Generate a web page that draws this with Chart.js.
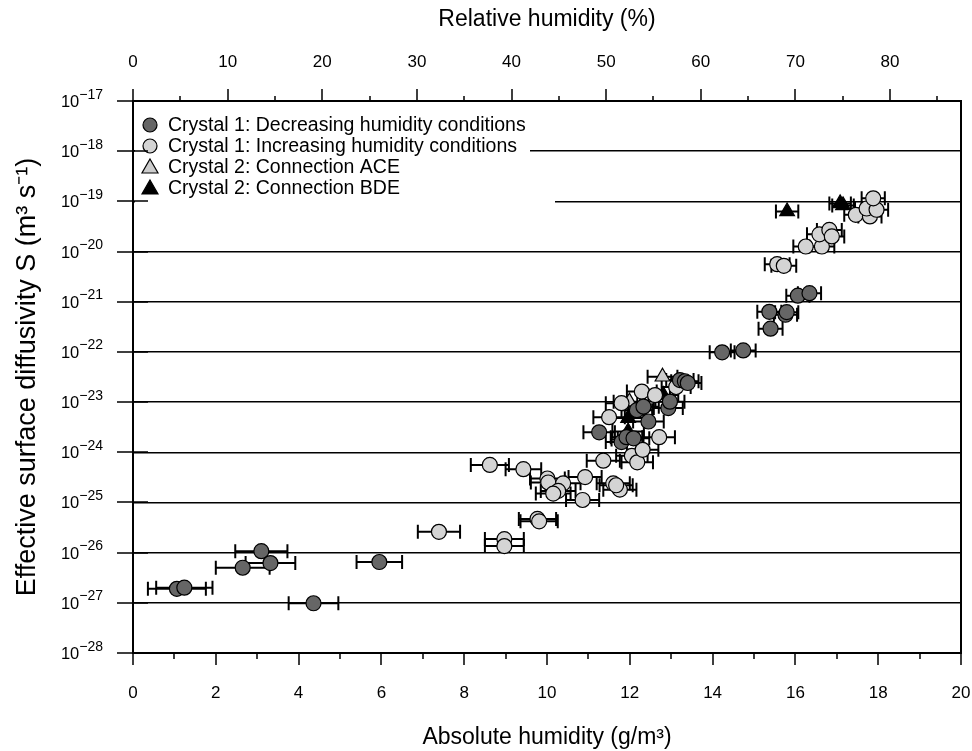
<!DOCTYPE html>
<html>
<head>
<meta charset="utf-8">
<script src="https://cdn.jsdelivr.net/npm/chart.js@4.4.1/dist/chart.umd.min.js"></script>
<style>
  html, body { margin: 0; padding: 0; background: #fff; }
  #wrap { width: 972px; height: 751px; position: relative; }
</style>
</head>
<body>
<div id="wrap"><canvas id="c"></canvas></div>
<script>
// ---------- data ----------
// Crystal 1: decreasing humidity conditions
const decX   = [1.06, 1.24, 2.65, 3.10, 3.32, 4.36, 5.95, 11.26, 11.80, 11.92, 12.09, 12.17, 12.33, 12.45, 12.93, 12.97, 13.21, 13.33, 13.40, 14.23, 14.74, 15.37, 15.40, 15.76, 15.79, 16.06, 16.34];
const decS   = [1.9e-27, 2.0e-27, 5.0e-27, 1.07e-26, 6.2e-27, 9.8e-28, 6.5e-27, 2.5e-24, 1.6e-24, 2.0e-24, 1.9e-24, 6.9e-24, 8.1e-24, 4.1e-24, 7.6e-24, 1.02e-23, 2.75e-23, 2.6e-23, 2.4e-23, 9.8e-23, 1.07e-22, 6.3e-22, 2.9e-22, 5.5e-22, 6.2e-22, 1.32e-21, 1.48e-21];
const decErr = [0.70, 0.68, 0.65, 0.63, 0.60, 0.60, 0.55, 0.38, 0.38, 0.38, 0.38, 0.37, 0.37, 0.37, 0.35, 0.35, 0.33, 0.33, 0.33, 0.30, 0.30, 0.29, 0.29, 0.28, 0.28, 0.28, 0.28];

// Crystal 1: increasing humidity conditions
const incX   = [7.39, 8.62, 9.43, 9.77, 9.81, 8.97, 8.97, 10.01, 10.03, 10.39, 10.27, 10.15, 10.92, 10.86, 11.36, 11.60, 11.76, 11.67, 12.05, 12.18, 12.31, 12.71, 11.50, 11.80, 12.29, 12.61, 13.12, 15.56, 15.72, 16.25, 16.64, 16.58, 16.82, 16.88, 17.46, 17.80, 17.72, 17.96, 17.88];
const incS   = [2.6e-26, 5.6e-25, 4.6e-25, 4.7e-26, 4.2e-26, 1.86e-26, 1.35e-26, 3.0e-25, 2.5e-25, 2.4e-25, 1.7e-25, 1.5e-25, 3.2e-25, 1.12e-25, 6.8e-25, 2.4e-25, 1.8e-25, 2.2e-25, 8.5e-25, 6.3e-25, 1.12e-24, 2.0e-24, 5.0e-24, 9.5e-24, 1.62e-23, 1.38e-23, 2.0e-23, 5.6e-21, 5.2e-21, 1.26e-20, 1.26e-20, 2.2e-20, 2.7e-20, 2.0e-20, 5.4e-20, 5.0e-20, 7.2e-20, 6.8e-20, 1.15e-19];
const incErr = [0.51, 0.46, 0.43, 0.45, 0.45, 0.47, 0.47, 0.42, 0.42, 0.42, 0.42, 0.42, 0.40, 0.40, 0.40, 0.40, 0.40, 0.40, 0.38, 0.38, 0.38, 0.38, 0.38, 0.38, 0.36, 0.36, 0.35, 0.30, 0.30, 0.30, 0.30, 0.30, 0.30, 0.30, 0.28, 0.28, 0.28, 0.28, 0.28];

// Crystal 2: connection ACE
const aceX   = [12.79, 11.99];
const aceS   = [3.2e-23, 1.02e-23];
const aceErr = [0.36, 0.38];

// Crystal 2: connection BDE
const bdeX   = [11.96, 11.96, 11.94, 12.81, 15.80, 17.08, 17.15];
const bdeS   = [4.8e-24, 2.6e-24, 1.8e-24, 1.38e-23, 6.3e-20, 9.1e-20, 8.3e-20];
const bdeErr = [0.38, 0.38, 0.38, 0.36, 0.27, 0.26, 0.26];

// axis ticks
const absTicks      = [0, 2, 4, 6, 8, 10, 12, 14, 16, 18, 20];
const absMinorTicks = [1, 3, 5, 7, 9, 11, 13, 15, 17, 19];
const relTicks      = [0, 10, 20, 30, 40, 50, 60, 70, 80];
const relMinorTicks = [5, 15, 25, 35, 45, 55, 65, 75, 85];
const sTickExps     = [-28, -27, -26, -25, -24, -23, -22, -21, -20, -19, -18, -17];
const relMax = 87.5; // relative humidity at 20 g/m3 on the top axis

const seriesNames = [
  'Crystal 1: Decreasing humidity conditions',
  'Crystal 1: Increasing humidity conditions',
  'Crystal 2: Connection ACE',
  'Crystal 2: Connection BDE'
];

// ---------- helpers ----------
const FONT = '"Liberation Sans", Arial, Helvetica, sans-serif';
const SUP = {'0':'⁰','1':'¹','2':'²','3':'³','4':'⁴','5':'⁵','6':'⁶','7':'⁷','8':'⁸','9':'⁹','-':'⁻'};
const sup = s => String(s).split('').map(ch => SUP[ch] || ch).join('');
const pts = (xs, ys) => xs.map((x, i) => ({x: x, y: ys[i]}));

function mkSet(label, xs, ys, errs, style, fill, radius) {
  return {
    label: label,
    data: pts(xs, ys),
    xErr: errs,
    pointStyle: style,
    pointRadius: radius,
    pointHoverRadius: radius,
    pointBackgroundColor: fill,
    pointBorderColor: '#000',
    pointBorderWidth: 1.2,
    showLine: false
  };
}

const datasets = [
  mkSet(seriesNames[0], decX, decS, decErr, 'circle', '#666666', 7.5),
  mkSet(seriesNames[1], incX, incS, incErr, 'circle', '#d4d4d4', 7.5),
  mkSet(seriesNames[2], aceX, aceS, aceErr, 'triangle', '#cccccc', 8.5),
  mkSet(seriesNames[3], bdeX, bdeS, bdeErr, 'triangle', '#000000', 8.5)
];

// horizontal error bars, drawn behind the markers
const errorBars = {
  id: 'errorBars',
  beforeDatasetsDraw(chart) {
    const ctx = chart.ctx, xs = chart.scales.x, ys = chart.scales.y, ca = chart.chartArea;
    ctx.save();
    ctx.beginPath(); ctx.rect(ca.left, ca.top, ca.right - ca.left, ca.bottom - ca.top); ctx.clip();
    ctx.strokeStyle = '#000'; ctx.lineWidth = 2;
    chart.data.datasets.forEach(ds => {
      ds.data.forEach((p, i) => {
        const e = ds.xErr[i];
        const x0 = xs.getPixelForValue(p.x - e), x1 = xs.getPixelForValue(p.x + e);
        const y = ys.getPixelForValue(p.y);
        ctx.beginPath();
        ctx.moveTo(x0, y); ctx.lineTo(x1, y);
        ctx.moveTo(x0, y - 7); ctx.lineTo(x0, y + 7);
        ctx.moveTo(x1, y - 7); ctx.lineTo(x1, y + 7);
        ctx.stroke();
      });
    });
    ctx.restore();
  }
};

// frame, tick marks and the 10^n labels of the log axis
const frameTicks = {
  id: 'frameTicks',
  afterDraw(chart) {
    const ctx = chart.ctx, ca = chart.chartArea;
    const xs = chart.scales.x, x2 = chart.scales.x2, ys = chart.scales.y;
    ctx.save();
    ctx.strokeStyle = '#000';
    ctx.lineWidth = 2;
    ctx.strokeRect(ca.left, ca.top, ca.right - ca.left, ca.bottom - ca.top);
    ctx.lineWidth = 1.5;
    ctx.beginPath();
    absTicks.forEach(v => { const px = Math.round(xs.getPixelForValue(v)); ctx.moveTo(px, ca.bottom); ctx.lineTo(px, ca.bottom + 12); });
    absMinorTicks.forEach(v => { const px = Math.round(xs.getPixelForValue(v)); ctx.moveTo(px, ca.bottom); ctx.lineTo(px, ca.bottom + 6); });
    relTicks.forEach(v => { const px = Math.round(x2.getPixelForValue(v)); ctx.moveTo(px, ca.top); ctx.lineTo(px, ca.top - 12); });
    relMinorTicks.forEach(v => { if (v <= relMax) { const px = Math.round(x2.getPixelForValue(v)); ctx.moveTo(px, ca.top); ctx.lineTo(px, ca.top - 5); } });
    sTickExps.forEach(e => { const py = Math.round(ys.getPixelForValue(Number('1e' + e))); ctx.moveTo(ca.left - 16, py); ctx.lineTo(ca.left + 15, py); });
    ctx.stroke();
    // y tick labels: "10" with a raised exponent
    ctx.fillStyle = '#000';
    ctx.textBaseline = 'alphabetic';
    ctx.textAlign = 'left';
    sTickExps.forEach(e => {
      const py = ys.getPixelForValue(Number('1e' + e));
      const expTxt = '\u2212' + String(-e);
      ctx.font = '14px ' + FONT;
      const ew = ctx.measureText(expTxt).width;
      ctx.font = '16.5px ' + FONT;
      const bw = ctx.measureText('10').width;
      const xr = ca.left - 30;
      ctx.fillText('10', xr - ew - bw, py + 6);
      ctx.font = '14px ' + FONT;
      ctx.fillText(expTxt, xr - ew, py - 2.5);
    });
    ctx.restore();
  }
};

// legend inside the plot, on a white background
const insideLegend = {
  id: 'insideLegend',
  afterDatasetsDraw(chart) {
    const ctx = chart.ctx, ca = chart.chartArea;
    ctx.save();
    ctx.fillStyle = '#fff';
    ctx.fillRect(ca.left + 2, ca.top + 3, 395, 74);
    ctx.fillRect(ca.left + 2, ca.top + 76, 420, 26);
    const mx = ca.left + 17, tx = ca.left + 35;
    ctx.font = '19.5px ' + FONT;
    ctx.textBaseline = 'middle';
    ctx.textAlign = 'left';
    chart.data.datasets.forEach((ds, i) => {
      const y = ca.top + 24 + i * 21;
      ctx.fillStyle = ds.pointBackgroundColor;
      ctx.strokeStyle = '#000';
      ctx.lineWidth = 1.2;
      ctx.beginPath();
      if (ds.pointStyle === 'circle') {
        ctx.arc(mx, y, 7, 0, Math.PI * 2);
      } else {
        ctx.moveTo(mx, y - 8); ctx.lineTo(mx + 8, y + 6); ctx.lineTo(mx - 8, y + 6); ctx.closePath();
      }
      ctx.fill(); ctx.stroke();
      ctx.fillStyle = '#000';
      ctx.fillText(ds.label, tx, y + 1);
    });
    ctx.restore();
  }
};

const noPad = s => { s.paddingLeft = 0; s.paddingRight = 0; s.paddingTop = 0; s.paddingBottom = 0; };

new Chart(document.getElementById('c'), {
  type: 'scatter',
  data: { datasets: datasets },
  plugins: [errorBars, insideLegend, frameTicks],
  options: {
    responsive: true,
    maintainAspectRatio: false,
    animation: false,
    events: [],
    layout: { padding: { left: 0, right: 11, top: 0, bottom: 0 } },
    plugins: { legend: { display: false }, tooltip: { enabled: false } },
    scales: {
      x: {
        type: 'linear', position: 'bottom', min: 0, max: 20,
        afterBuildTicks: s => { s.ticks = absTicks.map(v => ({value: v})); },
        afterFit: s => { s.height = 98; noPad(s); },
        grid: { display: false, drawTicks: false },
        border: { display: false },
        ticks: { autoSkip: false, maxRotation: 0, padding: 30, color: '#000', font: { family: FONT, size: 17 } },
        title: { display: true, text: 'Absolute humidity (g/m' + sup(3) + ')', color: '#000', font: { family: FONT, size: 23 }, padding: { top: 0, bottom: 0 } }
      },
      x2: {
        type: 'linear', position: 'top', min: 0, max: relMax,
        afterBuildTicks: s => { s.ticks = relTicks.map(v => ({value: v})); },
        afterFit: s => { s.height = 101; noPad(s); },
        grid: { display: false, drawTicks: false },
        border: { display: false },
        ticks: { autoSkip: false, maxRotation: 0, padding: 28, color: '#000', font: { family: FONT, size: 17 } },
        title: { display: true, text: 'Relative humidity (%)', color: '#000', font: { family: FONT, size: 23 }, padding: { top: 6, bottom: 0 } }
      },
      y: {
        type: 'logarithmic', position: 'left', min: 1e-28, max: 1e-17,
        afterBuildTicks: s => { s.ticks = sTickExps.map(e => ({value: Number('1e' + e)})); },
        afterFit: s => { s.width = 133; noPad(s); },
        grid: { display: true, drawTicks: false, color: '#000', lineWidth: 1.5 },
        border: { display: false },
        ticks: { display: false },
        title: { display: true, text: 'Effective surface diffusivity S (m' + sup(3) + ' s' + sup(-1) + ')', color: '#000', font: { family: FONT, size: 27 }, padding: { top: 11, bottom: 0 } }
      }
    }
  }
});
</script>
</body>
</html>
